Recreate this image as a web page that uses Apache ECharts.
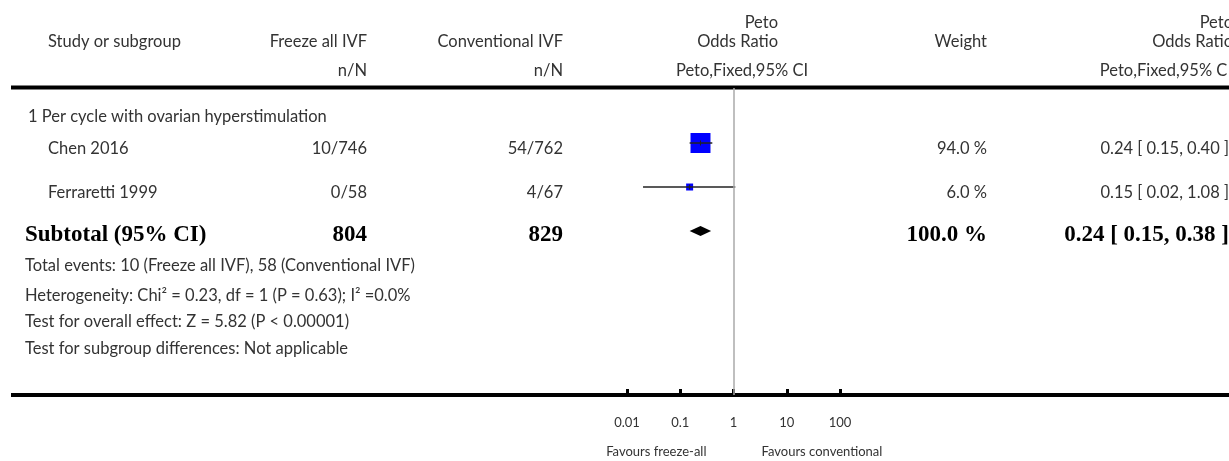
<!DOCTYPE html>
<html lang="en">
<head>
  <meta charset="UTF-8" />
  <title>Forest plot - Peto Odds Ratio</title>
  <script src="https://cdn.jsdelivr.net/npm/echarts@6/dist/echarts.min.js"></script>
  <style>
    body { margin: 0; background: #fff; }
    #main { width: 1229px; height: 461px; }
  </style>
</head>
<body>
  <div id="main"></div>
  <script>
    // data
    const subgroupTitle = '1 Per cycle with ovarian hyperstimulation';
    const studyNames = ['Chen 2016', 'Ferraretti 1999'];
    const freezeEvents = [10, 0];
    const freezeTotals = [746, 58];
    const convEvents = [54, 4];
    const convTotals = [762, 67];
    const weights = [94.0, 6.0];
    const oddsRatio = [0.24, 0.15];
    const ciLow = [0.15, 0.02];
    const ciHigh = [0.40, 1.08];
    const subtotalTotals = [804, 829];
    const subtotalWeight = 100.0;
    const subtotalOR = [0.24, 0.15, 0.38]; // est, low, high
    const footnotes = [
      'Total events: 10 (Freeze all IVF), 58 (Conventional IVF)',
      'Heterogeneity: Chi\u00b2 = 0.23, df = 1 (P = 0.63); I\u00b2 =0.0%',
      'Test for overall effect: Z = 5.82 (P < 0.00001)',
      'Test for subgroup differences: Not applicable'
    ];
    const tickValues = [0.01, 0.1, 1, 10, 100];
    const tickLabels = ['0.01', '0.1', '1', '10', '100'];
    const favoursLeft = 'Favours freeze-all';
    const favoursRight = 'Favours conventional';

    const SANS = 'Lato, "Noto Sans", sans-serif';
    const SERIF = '"Liberation Serif", "DejaVu Serif", serif';
    const TXT = '#333';

    const chart = echarts.init(document.getElementById('main'));

    const studyRows = studyNames.map((n, i) => [i, oddsRatio[i], ciLow[i], ciHigh[i], weights[i]]);
    const totalRow = [[studyNames.length, subtotalOR[0], subtotalOR[1], subtotalOR[2]]];

    chart.setOption({
      animation: false,
      grid: { left: 627, right: 389, top: 88, bottom: 66 },
      xAxis: {
        type: 'log', logBase: 10, min: tickValues[0], max: tickValues[tickValues.length - 1],
        position: 'bottom',
        axisLine: { show: false, onZero: false },
        axisTick: { show: true, inside: true, length: 6, lineStyle: { color: '#000', width: 3 } },
        splitLine: { show: false },
        axisLabel: {
          margin: 21, fontFamily: SANS, fontSize: 13, color: TXT,
          formatter: v => tickLabels[Math.round(Math.log10(v)) + 2]
        }
      },
      yAxis: { type: 'value', inverse: true, min: -1.25, max: 5.727, show: false },
      series: [
        {
          type: 'custom',
          data: studyRows,
          encode: { x: [1, 2, 3], y: 0 },
          renderItem: (params, api) => {
            const row = api.value(0);
            const c = api.coord([api.value(1), row]);
            const l = api.coord([api.value(2), row]);
            const h = api.coord([api.value(3), row]);
            const s = Math.max(7, 20.6 * Math.sqrt(api.value(4) / 100));
            return {
              type: 'group',
              children: [
                { type: 'rect', shape: { x: c[0] - s / 2, y: c[1] - s / 2, width: s, height: s }, style: { fill: '#0000ff' } },
                { type: 'line', shape: { x1: l[0], y1: c[1], x2: h[0], y2: c[1] }, style: { stroke: '#222', lineWidth: 1.5 } },
                { type: 'line', shape: { x1: c[0], y1: c[1] - 2.5, x2: c[0], y2: c[1] + 2.5 }, style: { stroke: '#222', lineWidth: 1 } }
              ]
            };
          },
          markLine: {
            silent: true, symbol: 'none', label: { show: false },
            lineStyle: { color: '#aaa', width: 1.5, type: 'solid' },
            data: [{ xAxis: 1 }]
          }
        },
        {
          type: 'custom',
          data: totalRow,
          encode: { x: [1, 2, 3], y: 0 },
          renderItem: (params, api) => {
            const row = api.value(0);
            const c = api.coord([api.value(1), row]);
            const l = api.coord([api.value(2), row]);
            const h = api.coord([api.value(3), row]);
            return {
              type: 'polygon',
              shape: { points: [[l[0], c[1]], [c[0], c[1] - 5], [h[0], c[1]], [c[0], c[1] + 5]] },
              style: { fill: '#000' }
            };
          }
        }
      ]
    });

    // table text, placed on the rows of the plot
    const rowY = i => chart.convertToPixel({ yAxisIndex: 0 }, i);
    const xOne = chart.convertToPixel({ xAxisIndex: 0 }, 1);

    const txt = (text, x, y, align, opts) => Object.assign({
      type: 'text', silent: true,
      style: Object.assign({
        text, x, y, align, textAlign: align, verticalAlign: 'middle', textVerticalAlign: 'middle',
        fill: TXT, font: '16.5px ' + SANS
      }, opts || {})
    });
    const bold = { fill: '#000', font: 'bold 23px ' + SERIF };
    const small = { font: '13px ' + SANS };
    const fmtCI = (e, l, h) => `${e.toFixed(2)} [ ${l.toFixed(2)}, ${h.toFixed(2)} ]`;

    const g = [
      { type: 'rect', silent: true, shape: { x: 11, y: 85.5, width: 1218, height: 4 }, style: { fill: '#000' } },
      { type: 'rect', silent: true, shape: { x: 11, y: 393, width: 1218, height: 4 }, style: { fill: '#000' } },
      txt('Study or subgroup', 48, 42, 'left'),
      txt('Freeze all IVF', 367, 42, 'right'),
      txt('Conventional IVF', 563, 42, 'right'),
      txt('Peto', 778, 23, 'right'),
      txt('Odds Ratio', 778, 42, 'right'),
      txt('Weight', 987, 42, 'right'),
      txt('Peto', 1233, 23, 'right'),
      txt('Odds Ratio', 1233, 42, 'right'),
      txt('n/N', 367, 71, 'right'),
      txt('n/N', 563, 71, 'right'),
      txt('Peto,Fixed,95% CI', 742, 71, 'center'),
      txt('Peto,Fixed,95% CI', 1232, 71, 'right'),
      txt(subgroupTitle, 28, 117, 'left')
    ];
    studyNames.forEach((n, i) => {
      const y = rowY(i) + 5.5;
      g.push(txt(n, 48, y, 'left'));
      g.push(txt(freezeEvents[i] + '/' + freezeTotals[i], 367, y, 'right'));
      g.push(txt(convEvents[i] + '/' + convTotals[i], 563, y, 'right'));
      g.push(txt(weights[i].toFixed(1) + ' %', 987, y, 'right'));
      g.push(txt(fmtCI(oddsRatio[i], ciLow[i], ciHigh[i]), 1229, y, 'right'));
    });
    const ys = rowY(studyNames.length) + 4;
    g.push(txt('Subtotal (95% CI)', 25, ys, 'left', bold));
    g.push(txt(String(subtotalTotals[0]), 367, ys, 'right', bold));
    g.push(txt(String(subtotalTotals[1]), 563, ys, 'right', bold));
    g.push(txt(subtotalWeight.toFixed(1) + ' %', 987, ys, 'right', bold));
    g.push(txt(fmtCI(subtotalOR[0], subtotalOR[1], subtotalOR[2]), 1229, ys, 'right', bold));
    const footY = [266, 296, 322, 349];
    footnotes.forEach((f, i) => g.push(txt(f, 25, footY[i], 'left')));
    g.push(txt(favoursLeft, xOne - 27, 452, 'right', small));
    g.push(txt(favoursRight, xOne + 28, 452, 'left', small));

    chart.setOption({ graphic: { elements: g } });
  </script>
</body>
</html>
